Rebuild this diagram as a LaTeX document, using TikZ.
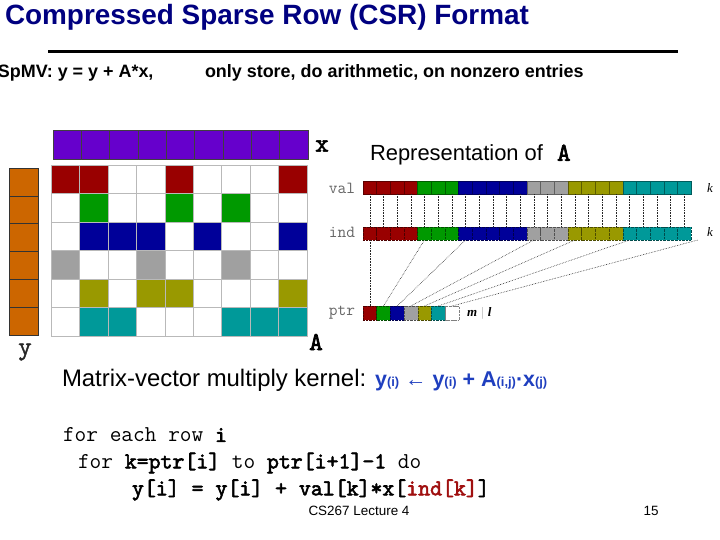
\documentclass[tikz,border=0pt]{standalone}
\usepackage{fontspec}
\setmainfont{Liberation Sans}
\newfontfamily\serifit{Liberation Serif}
\newfontfamily\codebf{lmmono10-regular.otf}[FakeBold=2.5]
\newfontfamily\codemid{lmmono10-regular.otf}[FakeBold=1.2]
\usetikzlibrary{positioning}
\definecolor{titlenavy}{HTML}{000080}
\definecolor{xpurple}{HTML}{6600CC}
\definecolor{yorange}{HTML}{CC6600}
\definecolor{rowred}{HTML}{990000}
\definecolor{rowgreen}{HTML}{009900}
\definecolor{rowblue}{HTML}{000099}
\definecolor{rowgray}{HTML}{A0A0A0}
\definecolor{rowolive}{HTML}{999900}
\definecolor{rowcyan}{HTML}{009999}
\definecolor{eqblue}{HTML}{1F3FBF}
\definecolor{codered}{HTML}{A01010}

\begin{document}
\begin{tikzpicture}[x=1bp, y=-1bp,
        every node/.style={inner sep=0pt, outer sep=0pt},
        mcell/.style={draw=gray!55, fill=white, minimum width=28.44bp, minimum height=28.5bp},
        xcell/.style={draw=black!75, fill=xpurple, minimum width=28.33bp, minimum height=29bp},
        ycell/.style={draw=black!80, fill=yorange, minimum width=29bp, minimum height=27.8bp},
        valcell/.style={draw=#1!60!black, fill=#1, minimum width=13.67bp, minimum height=13bp},
        indcell/.style={draw=#1!50!black, densely dotted, fill=#1, minimum width=13.67bp, minimum height=13bp},
        ptrcell/.style={draw=#1!50!black, densely dotted, fill=#1, minimum width=13.7bp, minimum height=14bp},
        veclbl/.style={font=\fontsize{26}{26}\codebf},
        arrlbl/.style={font=\fontsize{17}{17}\ttfamily, text=black!60},
        klbl/.style={font=\fontsize{13}{13}\serifit\itshape},
        code/.style={anchor=west, font=\fontsize{22.8}{23}\ttfamily},
        foot/.style={font=\fontsize{13.5}{14}\selectfont},
        link/.style={densely dotted, black!85, line width=0.6bp}
      ]
        \useasboundingbox (0,0) rectangle (720,540);
        % heading
        \node[anchor=west, font=\fontsize{28}{30}\selectfont\bfseries, text=titlenavy] (title) at (5,17) {Compressed Sparse Row (CSR) Format};
        \draw[line width=3bp] (48,52) -- (678,52);
        \node[anchor=west, font=\fontsize{18}{20}\selectfont\bfseries] (spmv) at (-2,73) {SpMV: y = y + A*x,};
        \node[anchor=west, font=\fontsize{18}{20}\selectfont\bfseries] (only) at (205,73) {only store, do arithmetic, on nonzero entries};
        % vectors and matrix
        \foreach \c in {1,...,9}
          \node[xcell] (x\c) at ({53+28.33*(\c-0.5)},144.5) {};
        \foreach \r in {1,...,6}
          \node[ycell] (y\r) at (23.5,{168+27.8*(\r-0.5)}) {};
        \foreach \r in {1,...,6}
          \foreach \c in {1,...,9}
            \node[mcell] (a\r-\c) at ({51+28.44*(\c-0.5)},{165+28.5*(\r-0.5)}) {};
        \foreach \r/\col/\cols in {1/rowred/{1,2,5,9}, 2/rowgreen/{2,5,7}, 3/rowblue/{2,3,4,6,9},
                                  4/rowgray/{1,4,7}, 5/rowolive/{2,4,5,9}, 6/rowcyan/{2,3,7,8,9}}
          \foreach \c in \cols
            \node[mcell, fill=\col] (nz\r-\c) at (a\r-\c) {};
        \node[veclbl] (xlbl) at (322,146) {x};
        \node[veclbl] (albl) at (316,342) {A};
        \node[veclbl, font=\fontsize{26}{26}\codemid, text=black!85] (ylbl) at (25,352) {y};
        % CSR arrays
        \node[anchor=west, font=\fontsize{22}{24}\selectfont] (rep) at (370,155) {Representation of\hspace{14bp}{\fontsize{26}{26}\codebf A}};
        \node[valcell=rowred] (v1) at (369.8,187.5) {};
        \node[indcell=rowred, below=33bp of v1] (i1) {};
        \draw[link] (v1.south) -- (i1.north);
        \foreach \col [count=\k from 2, remember=\k as \prev (initially 1)] in
            {rowred,rowred,rowred,rowgreen,rowgreen,rowgreen,rowblue,rowblue,rowblue,rowblue,rowblue,
             rowgray,rowgray,rowgray,rowolive,rowolive,rowolive,rowolive,rowcyan,rowcyan,rowcyan,rowcyan,rowcyan} {
          \node[valcell=\col, right=0pt of v\prev] (v\k) {};
          \node[indcell=\col, below=33bp of v\k] (i\k) {};
          \draw[link] (v\k.south) -- (i\k.north);
        }
        \coordinate[right=13.67bp of i24.south] (iend);
        \node[ptrcell=rowred] (p1) at (369.8,313) {};
        \foreach \col [count=\j from 2, remember=\j as \prev (initially 1)] in {rowgreen,rowblue,rowgray,rowolive,rowcyan,white}
          \node[ptrcell=\col, right=0pt of p\prev] (p\j) {};
        \draw[densely dotted, gray] (p7.north west) rectangle (p7.south east);
        \foreach \j/\t in {1/i1.south, 2/i5.south, 3/i8.south, 4/i13.south, 5/i16.south, 6/i20.south, 7/iend}
          \draw[link] (p\j.north) -- (\t);
        \node[arrlbl] (vallbl) at (342,188) {val};
        \node[arrlbl] (indlbl) at (342,232) {ind};
        \node[arrlbl] (ptrlbl) at (342,313) {ptr};
        \node[klbl] (kval) at (710,188) {k};
        \node[klbl] (kind) at (710,232) {k};
        \node[anchor=west, klbl, font=\fontsize{13}{13}\serifit\bfseries\itshape] (mlbl) at (467,313) {m\hspace{4bp}{\color{gray!45}\upshape|}\hspace{4bp}l};
        % kernel
        \node[anchor=west, font=\fontsize{24}{26}\selectfont] (kernel) at (62,380)
          {Matrix-vector multiply kernel: \textcolor{eqblue}{\fontsize{21.5}{24}\selectfont\bfseries y{\fontsize{13}{13}\selectfont(i)} ← y{\fontsize{13}{13}\selectfont(i)} + A{\fontsize{13}{13}\selectfont(i,j)}·x{\fontsize{13}{13}\selectfont(j)}}};
        \node[code] (line1) at (63,435) {for each row {\codebf i}};
        \node[code] (line2) at (78,463) {for {\codebf k=ptr[i]} to {\codebf ptr[i+1]-1} do};
        \node[code] (line3) at (132,490) {\codebf y[i] = y[i] + val[k]*x[\textcolor{codered}{ind[k]}]};
        \node[foot] (lect) at (359,511) {CS267 Lecture 4};
        \node[foot] (page) at (651,511) {15};
      \end{tikzpicture}
\end{document}
